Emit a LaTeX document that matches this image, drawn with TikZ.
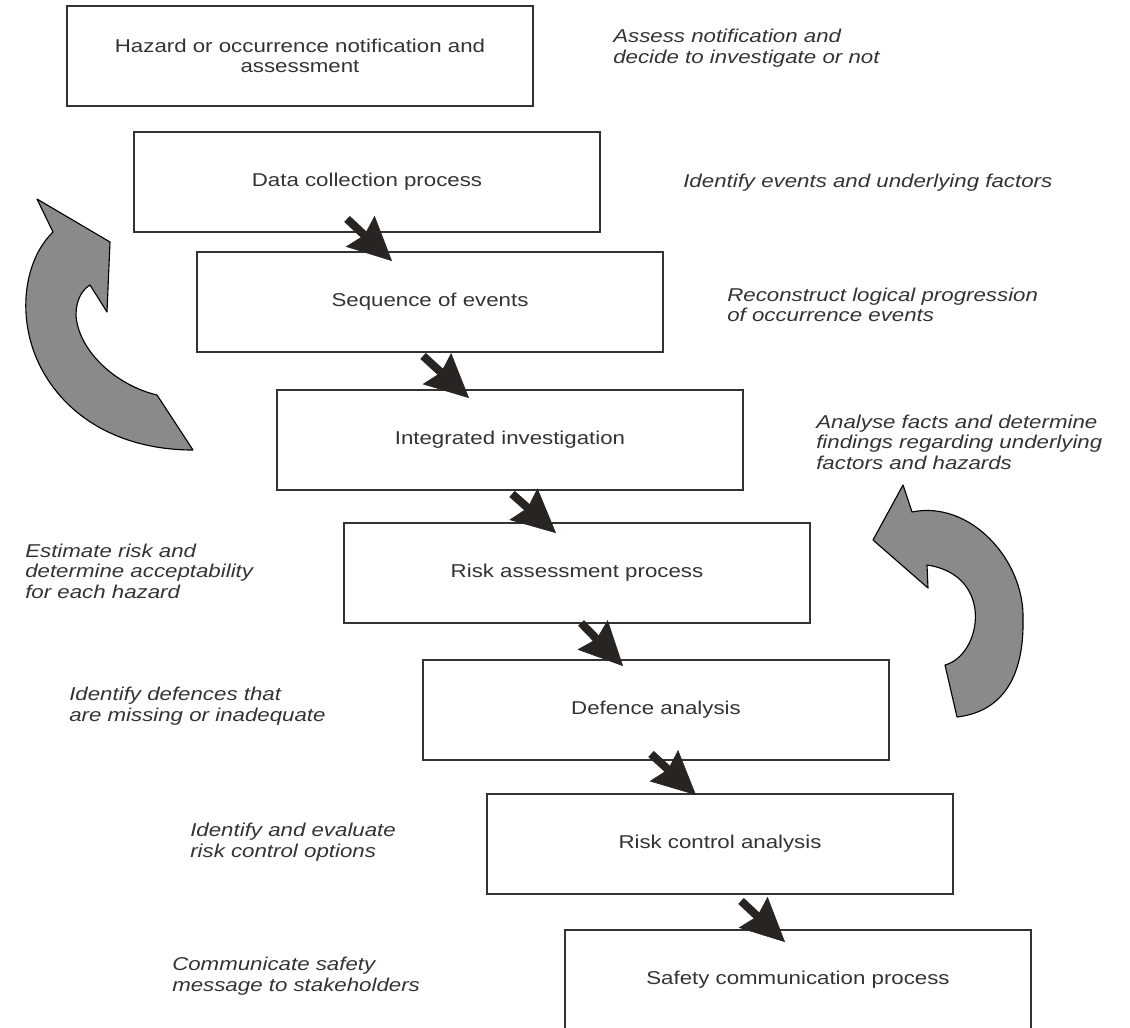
\documentclass[tikz,border=0pt]{standalone}
\usepackage{fontspec}
\setmainfont{Liberation Sans}[FakeStretch=1.2]
\usetikzlibrary{arrows.meta}
\definecolor{inkgray}{RGB}{51,51,51}
\definecolor{tipgray}{RGB}{40,36,34}
\definecolor{loopgray}{RGB}{138,138,138}

\begin{document}
\begin{tikzpicture}[x=0.025cm,y=-0.025cm,
procbox/.style={draw=inkgray,line width=1.3pt,minimum width=11.65cm,minimum height=2.5cm,
align=center,text=inkgray,font=\fontsize{13.2}{14.6}\selectfont},
remark/.style={anchor=west,inner sep=0pt,align=left,text=inkgray,
font=\fontsize{13.2}{14.6}\selectfont\itshape},
flowarrow/.style={draw=tipgray,line width=5.8pt,
-{Stealth[length=31pt,width=30pt,inset=4pt,line width=0.4pt]}},
looparrow/.style={fill=loopgray,draw=black,line width=0.8pt,line join=round}]
\useasboundingbox (0,0) rectangle (1130,1027);

\node[procbox](notify)at(300,56){Hazard or occurrence notification and\\assessment};
\node[procbox](collect)at(367,182){Data collection process};
\node[procbox](sequence)at(430,302){Sequence of events};
\node[procbox](integrate)at(510,440){Integrated investigation};
\node[procbox](riskassess)at(577,573){Risk assessment process};
\node[procbox](defence)at(656,710){Defence analysis};
\node[procbox](riskcontrol)at(720,844){Risk control analysis};
\node[procbox](safecomm)at(798,980){Safety communication process};

\draw[flowarrow]([shift={(214,-14)}]collect.south west)--([shift={(196,10)}]sequence.north west);
\draw[flowarrow]([shift={(227,3)}]sequence.south west)--([shift={(193,9)}]integrate.north west);
\draw[flowarrow]([shift={(236,3)}]integrate.south west)--([shift={(213,11)}]riskassess.north west);
\draw[flowarrow]([shift={(238,-1)}]riskassess.south west)--([shift={(201,7)}]defence.north west);
\draw[flowarrow]([shift={(229,-7)}]defence.south west)--([shift={(210,2)}]riskcontrol.north west);
\draw[flowarrow]([shift={(255,6)}]riskcontrol.south west)--([shift={(221,13)}]safecomm.north west);
%%
\node[remark](assess)at(613,48){Assess notification and\\decide to investigate or not};
\node[remark](identev)at(683,183){Identify events and underlying factors};
\node[remark](reconstr)at(727,305){Reconstruct logical progression\\of occurrence events};
\node[remark](analyse)at(816,442){Analyse facts and determine\\findings regarding underlying\\factors and hazards};
\node[remark](estimate)at(25,571){Estimate risk and\\determine acceptability\\for each hazard};
\node[remark](identdef)at(69,706){Identify defences that\\are missing or inadequate};
\node[remark](identrc)at(190,842){Identify and evaluate\\risk control options};
\node[remark](communic)at(172,976){Communicate safety\\message to stakeholders};
%
\draw[looparrow](193,450)--(157,395)
.. controls (115,385) and (78,350) .. (76,315)
.. controls (76,300) and (82,290) .. (90,285)
--(107,312)--(110,242)--(37,199)--(53,232)
.. controls (22,262) and (15,325) .. (45,375)
.. controls (75,425) and (130,450) .. (193,450)--cycle;
%
\draw[looparrow](957,717)--(945,665)
.. controls (982,655) and (995,575) .. (927,565)
--(928,588)--(873,540)--(903,485)--(912,512)
.. controls (970,500) and (1025,560) .. (1023,620)
.. controls (1024,680) and (1000,712) .. (957,717)--cycle;
\end{tikzpicture}
\end{document}
